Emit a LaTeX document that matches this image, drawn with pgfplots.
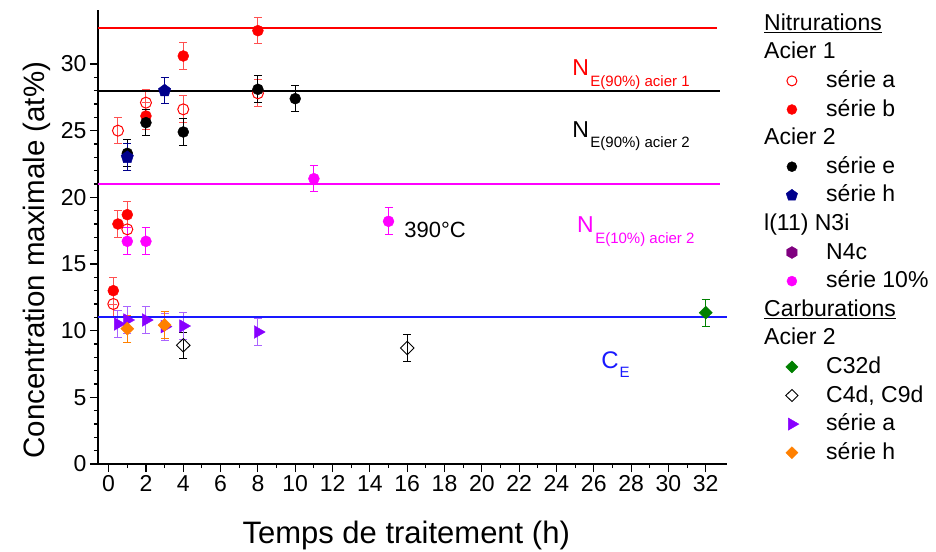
\documentclass[border=0pt]{standalone}
\usepackage{pgfplots}
\pgfplotsset{compat=1.18}
\usepackage{fontspec}
\setmainfont{Liberation Sans}
\usetikzlibrary{plotmarks}
\pgfdeclareplotmark{hexagon*}{%
  \pgfpathmoveto{\pgfpointpolar{30}{\pgfplotmarksize}}%
  \pgfpathlineto{\pgfpointpolar{90}{\pgfplotmarksize}}%
  \pgfpathlineto{\pgfpointpolar{150}{\pgfplotmarksize}}%
  \pgfpathlineto{\pgfpointpolar{210}{\pgfplotmarksize}}%
  \pgfpathlineto{\pgfpointpolar{270}{\pgfplotmarksize}}%
  \pgfpathlineto{\pgfpointpolar{330}{\pgfplotmarksize}}%
  \pgfpathclose\pgfusepathqfillstroke}
\definecolor{cRed}{RGB}{255,0,0}
\definecolor{cRedL}{RGB}{255,80,80}
\definecolor{cNavy}{RGB}{0,0,140}
\definecolor{cMag}{RGB}{255,0,255}
\definecolor{cPurp}{RGB}{136,0,255}
\definecolor{cPurpL}{RGB}{170,100,255}
\definecolor{cOrange}{RGB}{255,128,0}
\definecolor{cGreen}{RGB}{0,128,0}
\definecolor{cHex}{RGB}{128,0,128}
\definecolor{cBlue}{RGB}{25,25,255}
\pgfplotsset{
  eb/.style={error bars/.cd, y dir=both, y explicit, error mark=|,
    error bar style={#1, line width=1pt},
    error mark options={#1, mark size=4pt, line width=1pt}},
  lgimg/.style={legend image code/.code={\path[draw=none, fill=none] (-10pt,-7pt) rectangle (10pt,7pt); \draw[##1] plot coordinates {(0pt,0pt)};}},
}
\begin{document}
\begin{tikzpicture}
\useasboundingbox (-98pt,-87pt) rectangle (838pt,464pt);
\begin{axis}[
  scale only axis, width=629pt, height=454pt,
  xmin=-0.57, xmax=33.14, ymin=0, ymax=34.05,
  axis x line*=bottom, axis y line*=left,
  axis line style={-, line width=1.3pt},
  xtick={0,2,...,32}, minor x tick num=1,
  ytick={0,5,...,30}, minor y tick num=4,
  tick align=outside, major tick length=8pt, minor tick length=4pt,
  tick style={black, line width=1.1pt},
  ticklabel style={font=\fontsize{23}{25}\selectfont},
  /pgf/number format/assume math mode=true,
  xlabel={Temps de traitement (h)},
  ylabel={Concentration maximale (at\%)},
  every axis x label/.style={at={([yshift=-79pt]axis description cs:0.49,0)}, anchor=base, font=\fontsize{31}{33}\selectfont},
  every axis y label/.style={at={([xshift=-53pt]axis description cs:0,0.449)}, rotate=90, anchor=base, font=\fontsize{29.5}{31}\selectfont},
  legend style={at={(axis description cs:1,1)}, anchor=north west, xshift=54.7pt, yshift=-3pt,
    draw=none, fill=none, inner sep=0pt, row sep=7.6pt, column sep=24.3pt,
    font=\fontsize{23}{25}\selectfont,
    nodes={inner sep=0pt, text height=17pt, text depth=4pt}},
  legend cell align=left,
]
% Acier 1 serie a
\addplot[forget plot, only marks, mark=o, mark size=5.5pt, color=cRed, mark options={line width=1pt}, eb=cRedL]
 coordinates {(0.25,12.0) +- (0,1) (0.5,25.0) +- (0,1) (1,17.6) +- (0,1) (2,27.1) +- (0,1) (4,26.6) +- (0,1) (8,27.8) +- (0,1)};
% Acier 1 serie b
\addplot[forget plot, only marks, mark=*, mark size=5.5pt, color=cRed, eb=cRedL]
 coordinates {(0.25,13.0) +- (0,1) (0.5,18.0) +- (0,1) (1,18.7) +- (0,1) (2,26.1) +- (0,1) (4,30.6) +- (0,1) (8,32.5) +- (0,1)};
% Acier 2 serie e
\addplot[forget plot, only marks, mark=*, mark size=5.5pt, color=black, eb=black]
 coordinates {(1,23.3) +- (0,1) (2,25.6) +- (0,1) (4,24.9) +- (0,1) (8,28.1) +- (0,1) (10,27.4) +- (0,1)};
% Acier 2 serie h
\addplot[forget plot, only marks, mark=pentagon*, mark size=6.5pt, color=cNavy, eb=cNavy]
 coordinates {(1,23.0) +- (0,1) (3,28.0) +- (0,1)};
% serie 10%
\addplot[forget plot, only marks, mark=*, mark size=5.5pt, color=cMag, eb=cMag]
 coordinates {(1,16.7) +- (0,1) (2,16.7) +- (0,1) (11,21.4) +- (0,1) (15,18.2) +- (0,1)};
% C32d
\addplot[forget plot, only marks, mark=diamond*, mark size=6.5pt, color=cGreen, mark options={xscale=1.35}, eb=cGreen]
 coordinates {(32,11.35) +- (0,1)};
% C4d, C9d
\addplot[forget plot, only marks, mark=diamond, mark size=6.7pt, color=black, mark options={xscale=1.35, fill=white, line width=0.9pt}, eb=black]
 coordinates {(4,8.9) +- (0,1) (16,8.7) +- (0,1)};
% Carburation serie a
\addplot[forget plot, only marks, mark=triangle*, mark size=7.3pt, color=cPurp, mark options={rotate=-90}, eb=cPurpL]
 coordinates {(0.5,10.5) +- (0,1) (1,10.8) +- (0,1) (2,10.8) +- (0,1) (3,10.3) +- (0,1) (4,10.35) +- (0,1) (8,9.9) +- (0,1)};
% Carburation serie h
\addplot[forget plot, only marks, mark=diamond*, mark size=6.5pt, color=cOrange, mark options={xscale=1.35}, eb=cOrange]
 coordinates {(1,10.15) +- (0,1) (3,10.42) +- (0,1)};
% reference lines
\addplot[forget plot, no marks, cRed, line width=2pt] coordinates {(-0.57,32.7) (32.6,32.7)};
\addplot[forget plot, no marks, black, line width=2pt] coordinates {(-0.57,28) (32.75,28)};
\addplot[forget plot, no marks, cMag, line width=2pt] coordinates {(-0.57,21) (32.75,21)};
\addplot[forget plot, no marks, cBlue, line width=2.2pt] coordinates {(-0.57,11) (33.14,11)};
% annotations
\node[anchor=base west, inner sep=0pt, text=cRed, font=\fontsize{23}{25}\selectfont] at (axis cs:24.84,29.13) {N\kern1.5pt\raisebox{-10.7pt}{\fontsize{15}{17}\selectfont E(90\%) acier 1}};
\node[anchor=base west, inner sep=0pt, text=black, font=\fontsize{23}{25}\selectfont] at (axis cs:24.84,24.48) {N\kern1.5pt\raisebox{-10pt}{\fontsize{15}{17}\selectfont E(90\%) acier 2}};
\node[anchor=base west, inner sep=0pt, text=cMag, font=\fontsize{23}{25}\selectfont] at (axis cs:25.10,17.35) {N\kern1.5pt\raisebox{-11pt}{\fontsize{15}{17}\selectfont E(10\%) acier 2}};
\node[anchor=base west, inner sep=0pt, text=cBlue, font=\fontsize{24}{26}\selectfont] at (axis cs:26.39,7.15) {C\kern1pt\raisebox{-9pt}{\fontsize{15}{17}\selectfont E}};
\node[anchor=base west, inner sep=0pt, text=black, font=\fontsize{22}{24}\selectfont] at (axis cs:15.84,17.0) {390°C};
% legend
\addlegendimage{empty legend}\addlegendentry{\hspace*{-62pt}\underline{Nitrurations}}
\addlegendimage{empty legend}\addlegendentry{\hspace*{-62pt}Acier 1}
\addlegendimage{mark=o, mark size=5pt, cRed, mark options={line width=1pt}, lgimg}\addlegendentry{série a}
\addlegendimage{mark=*, mark size=5pt, cRed, lgimg}\addlegendentry{série b}
\addlegendimage{empty legend}\addlegendentry{\hspace*{-62pt}Acier 2}
\addlegendimage{mark=*, mark size=5pt, black, lgimg}\addlegendentry{série e}
\addlegendimage{mark=pentagon*, mark size=6pt, cNavy, lgimg}\addlegendentry{série h}
\addlegendimage{empty legend}\addlegendentry{\hspace*{-62pt}l(11) N3i}
\addlegendimage{mark=hexagon*, mark size=6pt, cHex, lgimg}\addlegendentry{N4c}
\addlegendimage{mark=*, mark size=5pt, cMag, lgimg}\addlegendentry{série 10\%}
\addlegendimage{empty legend}\addlegendentry{\hspace*{-62pt}\underline{Carburations}}
\addlegendimage{empty legend}\addlegendentry{\hspace*{-62pt}Acier 2}
\addlegendimage{mark=diamond*, mark size=6pt, cGreen, mark options={xscale=1.35}, lgimg}\addlegendentry{C32d}
\addlegendimage{mark=diamond, mark size=6pt, black, mark options={xscale=1.35, fill=white, line width=0.9pt}, lgimg}\addlegendentry{C4d, C9d}
\addlegendimage{mark=triangle*, mark size=7pt, cPurp, mark options={rotate=-90}, lgimg}\addlegendentry{série a}
\addlegendimage{mark=diamond*, mark size=6pt, cOrange, mark options={xscale=1.35}, lgimg}\addlegendentry{série h}
\end{axis}
\end{tikzpicture}
\end{document}
